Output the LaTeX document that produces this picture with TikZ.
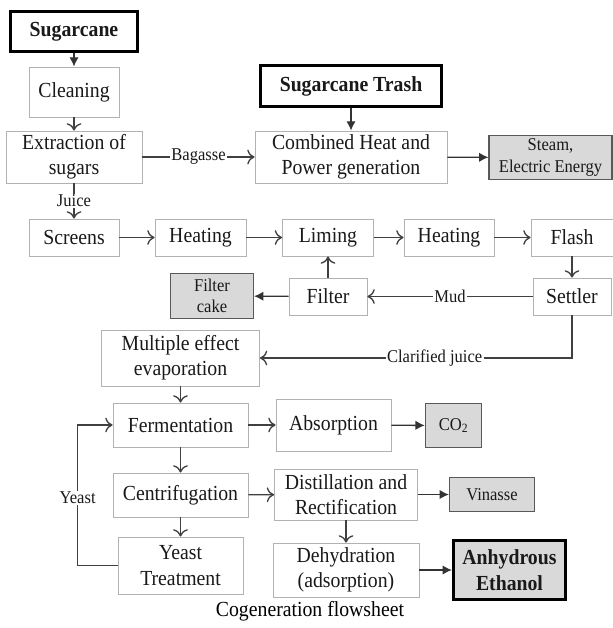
\documentclass[tikz,border=0pt]{standalone}
\usepackage{fontspec}
\setmainfont{Liberation Serif}[FakeStretch=0.92]
\usetikzlibrary{arrows.meta}
\begin{document}
\begin{tikzpicture}[x=.75pt,y=-.75pt,font=\fontsize{16.1}{19}\selectfont,text=black!90,
  proc/.style={draw=black!30,line width=.6pt,fill=white,align=center,inner sep=1pt},
  prod/.style={draw=black!65,line width=1.1pt,fill=black!15,align=center,inner sep=1pt,font=\fontsize{13.5}{16}\selectfont},
  feed/.style={draw=black,line width=2.4pt,fill=white,align=center,inner sep=1pt,font=\fontsize{16.1}{19}\selectfont\bfseries},
  flow/.style={draw=black!75,line width=1pt,-{To[length=5.5pt,width=11pt]}},
  yield/.style={draw=black!80,line width=1pt,-{Latex[length=7pt,width=7pt]}},
  lbl/.style={fill=white,inner sep=1pt,font=\fontsize{13.5}{16}\selectfont}]
\useasboundingbox (0,0) rectangle (613,628);
\node[feed,minimum width=95pt,minimum height=30pt] (sugar) at (74,31.5) {Sugarcane};
\node[proc,minimum width=67.5pt,minimum height=37.5pt] (clean) at (74,92) {Cleaning};
\node[proc,minimum width=102pt,minimum height=39pt] (extract) at (74,157) {Extraction of\\sugars};
\node[feed,minimum width=135.5pt,minimum height=30.5pt] (trash) at (351,86) {Sugarcane Trash};
\node[proc,minimum width=144pt,minimum height=39pt] (chp) at (351,157) {Combined Heat and\\Power generation};
\node[prod,minimum width=92pt,minimum height=33pt] (steam) at (550.5,157.5) {Steam,\\Electric Energy};
\node[proc,minimum width=67.5pt,minimum height=27.75pt] (screens) at (74,237.5) {Screens};
\node[proc,minimum width=68.25pt,minimum height=27.75pt] (heat1) at (200.5,237.5) {Heating};
\node[proc,minimum width=68.25pt,minimum height=27.75pt] (liming) at (328,237.5) {Liming};
\node[proc,minimum width=67.5pt,minimum height=27.75pt] (heat2) at (449,237.5) {Heating};
\node[proc,minimum width=61.5pt,minimum height=27.75pt] (flash) at (572,237.5) {Flash};
\node[prod,minimum width=62pt,minimum height=33.5pt] (fcake) at (212,296) {Filter\\cake};
\node[proc,minimum width=58.5pt,minimum height=27.75pt] (filter) at (328,296.5) {Filter};
\node[proc,minimum width=58.5pt,minimum height=27.75pt] (settler) at (572,296.5) {Settler};
\node[proc,minimum width=118.5pt,minimum height=42pt] (mee) at (180.5,358) {Multiple effect\\evaporation};
\node[proc,minimum width=101.25pt,minimum height=33pt] (ferm) at (180.5,425) {Fermentation};
\node[proc,minimum width=86.25pt,minimum height=39pt] (absorb) at (333.5,425) {Absorption};
\node[prod,minimum width=42pt,minimum height=33pt] (co2) at (453.5,425.5) {CO\textsubscript{2}};
\node[proc,minimum width=101.25pt,minimum height=33pt] (centri) at (180.5,495) {Centrifugation};
\node[proc,minimum width=107.25pt,minimum height=38.25pt] (distil) at (346,494.5) {Distillation and\\Rectification};
\node[prod,minimum width=63.5pt,minimum height=25.5pt] (vinasse) at (492,494.5) {Vinasse};
\node[proc,minimum width=93.75pt,minimum height=42.75pt] (ytreat) at (180.5,565.5) {Yeast\\Treatment};
\node[proc,minimum width=109.5pt,minimum height=40.5pt] (dehyd) at (346,570) {Dehydration\\(adsorption)};
\node[feed,fill=black!15,minimum width=84pt,minimum height=44pt] (ethanol) at (509.5,570) {Anhydrous\\Ethanol};
\node[text=black] (caption) at (310,611) {Cogeneration flowsheet};
\draw[yield] (sugar) -- (clean);
\draw[flow] (clean) -- (extract);
\draw[flow] (extract) -- node[lbl]{Bagasse} (chp);
\draw[yield] (trash) -- (chp);
\draw[yield] (chp) -- (steam);
\draw[flow] (extract) -- node[lbl]{Juice} (screens);
\draw[flow] (screens) -- (heat1);
\draw[flow] (heat1) -- (liming);
\draw[flow] (liming) -- (heat2);
\draw[flow] (heat2) -- (flash);
\draw[flow] (flash) -- (settler);
\draw[flow] (settler) -- node[lbl]{Mud} (filter);
\draw[flow] (filter) -- (liming);
\draw[yield] (filter) -- (fcake);
\draw[flow] (settler.south) |- node[lbl,pos=.72]{Clarified juice} (mee.east);
\draw[flow] (mee) -- (ferm);
\draw[flow] (ferm) -- (absorb);
\draw[yield] (absorb) -- (co2);
\draw[flow] (ferm) -- (centri);
\draw[flow] (centri) -- (distil);
\draw[yield] (distil) -- (vinasse);
\draw[flow] (centri) -- (ytreat);
\draw[flow] (distil) -- (dehyd);
\draw[yield] (dehyd) -- (ethanol);
\draw[flow] (ytreat.west) -- ++(-40,0) |- node[lbl,pos=.24]{Yeast} (ferm.west);
\end{tikzpicture}
\end{document}
